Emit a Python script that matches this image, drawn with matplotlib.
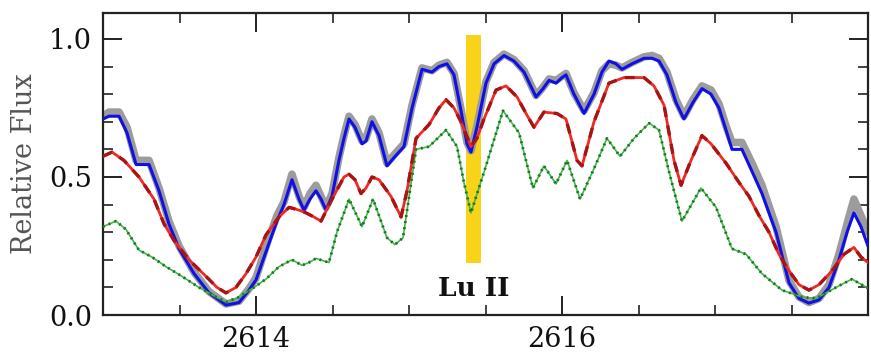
import matplotlib
matplotlib.use("Agg")
import matplotlib.pyplot as plt
from matplotlib.ticker import FixedLocator, MultipleLocator, FormatStrFormatter

plt.rcParams['font.family'] = ['DejaVu Serif']

# ---- data -------------------------------------------------------------
wave_obs = [2613.000, 2613.039, 2613.105, 2613.157, 2613.216, 2613.301, 2613.366, 2613.431,
            2613.497, 2613.595, 2613.693, 2613.804, 2613.889, 2613.954, 2614.000, 2614.085,
            2614.137, 2614.183, 2614.235, 2614.281, 2614.314, 2614.353, 2614.392, 2614.425,
            2614.458, 2614.497, 2614.542, 2614.575, 2614.608, 2614.647, 2614.693, 2614.719,
            2614.758, 2614.804, 2614.856, 2614.902, 2614.967, 2615.020, 2615.085, 2615.150,
            2615.196, 2615.248, 2615.294, 2615.340, 2615.379, 2615.405, 2615.444, 2615.503,
            2615.556, 2615.621, 2615.686, 2615.752, 2615.830, 2615.876, 2615.915, 2615.961,
            2616.000, 2616.026, 2616.078, 2616.144, 2616.209, 2616.261, 2616.307, 2616.353,
            2616.392, 2616.458, 2616.536, 2616.588, 2616.634, 2616.686, 2616.745, 2616.797,
            2616.856, 2616.915, 2616.974, 2617.026, 2617.072, 2617.111, 2617.176, 2617.242,
            2617.307, 2617.399, 2617.484, 2617.549, 2617.614, 2617.680, 2617.745, 2617.810,
            2617.863, 2617.908, 2617.954, 2618.000]

flux_observed = [0.72, 0.735, 0.735, 0.68, 0.56, 0.56, 0.46, 0.34, 0.25, 0.155, 0.085, 0.04,
                 0.05, 0.095, 0.135, 0.28, 0.36, 0.41, 0.51, 0.43, 0.39, 0.44, 0.47, 0.43,
                 0.39, 0.44, 0.57, 0.65, 0.72, 0.69, 0.63, 0.64, 0.71, 0.66, 0.55, 0.58,
                 0.62, 0.76, 0.895, 0.885, 0.905, 0.915, 0.875, 0.745, 0.625, 0.595, 0.685, 0.845,
                 0.915, 0.945, 0.925, 0.885, 0.795, 0.825, 0.855, 0.85, 0.865, 0.875, 0.805, 0.74,
                 0.805, 0.885, 0.91, 0.905, 0.895, 0.915, 0.935, 0.94, 0.93, 0.88, 0.78, 0.72,
                 0.78, 0.83, 0.815, 0.765, 0.685, 0.625, 0.625, 0.55, 0.47, 0.32, 0.125, 0.065,
                 0.045, 0.06, 0.11, 0.22, 0.33, 0.42, 0.36, 0.30]

flux_blue = [0.71, 0.72, 0.72, 0.66, 0.545, 0.545, 0.45, 0.33, 0.24, 0.15, 0.08, 0.036,
             0.045, 0.09, 0.127, 0.26, 0.34, 0.40, 0.49, 0.42, 0.38, 0.42, 0.45, 0.42,
             0.38, 0.43, 0.56, 0.64, 0.71, 0.68, 0.62, 0.63, 0.70, 0.65, 0.54, 0.57,
             0.61, 0.75, 0.89, 0.88, 0.90, 0.91, 0.87, 0.74, 0.62, 0.59, 0.68, 0.84,
             0.91, 0.94, 0.92, 0.88, 0.79, 0.82, 0.85, 0.84, 0.86, 0.87, 0.80, 0.73,
             0.80, 0.88, 0.92, 0.91, 0.89, 0.91, 0.93, 0.93, 0.92, 0.87, 0.77, 0.71,
             0.77, 0.82, 0.80, 0.75, 0.67, 0.60, 0.60, 0.52, 0.44, 0.30, 0.116, 0.06,
             0.043, 0.055, 0.10, 0.20, 0.30, 0.37, 0.32, 0.25]

wave_red = [2613.000, 2613.059, 2613.137, 2613.235, 2613.333, 2613.399, 2613.464, 2613.562,
            2613.673, 2613.745, 2613.804, 2613.869, 2613.935, 2614.000, 2614.065, 2614.150,
            2614.216, 2614.281, 2614.327, 2614.379, 2614.425, 2614.497, 2614.575, 2614.608,
            2614.647, 2614.686, 2614.719, 2614.758, 2614.804, 2614.882, 2614.948, 2614.987,
            2615.046, 2615.131, 2615.196, 2615.242, 2615.294, 2615.340, 2615.405, 2615.444,
            2615.490, 2615.569, 2615.634, 2615.706, 2615.765, 2615.817, 2615.882, 2615.967,
            2616.026, 2616.098, 2616.131, 2616.209, 2616.307, 2616.405, 2616.536, 2616.601,
            2616.667, 2616.732, 2616.778, 2616.843, 2616.915, 2616.974, 2617.072, 2617.157,
            2617.222, 2617.288, 2617.353, 2617.418, 2617.484, 2617.549, 2617.614, 2617.680,
            2617.765, 2617.843, 2617.908, 2617.954, 2618.000]

flux_red = [0.575, 0.59, 0.56, 0.50, 0.42, 0.33, 0.27, 0.20, 0.14, 0.10, 0.08, 0.10, 0.15,
            0.21, 0.29, 0.355, 0.39, 0.38, 0.37, 0.355, 0.34, 0.42, 0.50, 0.51, 0.49, 0.44,
            0.46, 0.50, 0.49, 0.43, 0.355, 0.45, 0.64, 0.69, 0.75, 0.78, 0.75, 0.70, 0.61,
            0.64, 0.71, 0.815, 0.83, 0.79, 0.73, 0.68, 0.735, 0.73, 0.71, 0.56, 0.54, 0.70,
            0.84, 0.86, 0.86, 0.83, 0.76, 0.56, 0.47, 0.56, 0.65, 0.62, 0.55, 0.48, 0.43,
            0.36, 0.30, 0.22, 0.16, 0.11, 0.09, 0.11, 0.16, 0.22, 0.245, 0.21, 0.19]

wave_green = [2613.000, 2613.085, 2613.150, 2613.235, 2613.320, 2613.412, 2613.516, 2613.627,
              2613.739, 2613.804, 2613.889, 2613.987, 2614.065, 2614.150, 2614.235, 2614.301,
              2614.346, 2614.392, 2614.477, 2614.529, 2614.608, 2614.693, 2614.765, 2614.856,
              2614.908, 2614.961, 2615.046, 2615.131, 2615.242, 2615.314, 2615.359, 2615.405,
              2615.503, 2615.614, 2615.719, 2615.810, 2615.882, 2615.961, 2616.033, 2616.118,
              2616.209, 2616.294, 2616.379, 2616.471, 2616.569, 2616.634, 2616.699, 2616.784,
              2616.908, 2617.007, 2617.111, 2617.203, 2617.307, 2617.438, 2617.569, 2617.660,
              2617.791, 2617.895, 2618.000]

flux_green = [0.32, 0.34, 0.31, 0.235, 0.21, 0.175, 0.14, 0.10, 0.065, 0.047, 0.065, 0.10,
              0.13, 0.175, 0.20, 0.18, 0.19, 0.205, 0.19, 0.30, 0.42, 0.32, 0.42, 0.28,
              0.255, 0.28, 0.60, 0.61, 0.67, 0.61, 0.48, 0.37, 0.54, 0.74, 0.66, 0.46,
              0.54, 0.475, 0.56, 0.42, 0.53, 0.64, 0.575, 0.64, 0.695, 0.67, 0.52, 0.34,
              0.46, 0.39, 0.24, 0.22, 0.15, 0.09, 0.065, 0.06, 0.10, 0.13, 0.097]

lu_center = 2615.42
lu_width = 0.10
lu_bottom = 0.19
lu_top = 1.013
lu_label = "Lu II"

x_major = [2614, 2616]
y_major = [0.0, 0.5, 1.0]

# ---- figure -----------------------------------------------------------
fig = plt.figure(figsize=(8.71, 3.55), dpi=100)
ax = fig.add_axes([103 / 871, 1 - 315 / 355, 765 / 871, 302 / 355])

ax.bar([lu_center], [lu_top - lu_bottom], bottom=[lu_bottom], width=lu_width,
       color='#f8d31a', zorder=1)
ax.plot(wave_obs, flux_observed, color='#9c9c9c', lw=5.5, solid_capstyle='round',
        solid_joinstyle='round', zorder=2)
ax.plot(wave_obs, flux_blue, color='#1010e6', lw=2.2, solid_joinstyle='round', zorder=3)
ax.plot(wave_red, flux_red, color='#ee2a22', lw=2.0, solid_joinstyle='round', zorder=4)
ax.plot(wave_red, flux_red, color='#a81414', lw=2.4, ls=(0, (3, 2.6)), zorder=5)
ax.plot(wave_green, flux_green, color='#40b848', lw=1.2, zorder=4)
ax.plot(wave_green, flux_green, color='#1f7324', lw=2.0, ls=(0, (0.7, 1.5)), zorder=5)

ax.text(lu_center, 0.095, lu_label, ha='center', va='center', fontsize=19,
        fontweight='bold', color='#111111')

ax.set_xlim(2613.0, 2618.0)
ax.set_ylim(0.0, 1.094)
ax.xaxis.set_major_locator(FixedLocator(x_major))
ax.xaxis.set_major_formatter(FormatStrFormatter('%d'))
ax.xaxis.set_minor_locator(MultipleLocator(0.5))
ax.yaxis.set_major_locator(FixedLocator(y_major))
ax.yaxis.set_major_formatter(FormatStrFormatter('%.1f'))
ax.yaxis.set_minor_locator(MultipleLocator(0.1))

ax.tick_params(which='both', direction='in', top=True, right=True, color='#222222')
ax.tick_params(which='major', length=14, width=1.4, labelsize=19.5, pad=8, labelcolor='#111111')
ax.tick_params(which='minor', length=7, width=1.2)
for s in ax.spines.values():
    s.set_linewidth(1.6)
    s.set_color('#222222')

ax.set_ylabel('Relative Flux', fontsize=19.5, color='#555555', labelpad=8)

fig.savefig('out.png', dpi=100)
